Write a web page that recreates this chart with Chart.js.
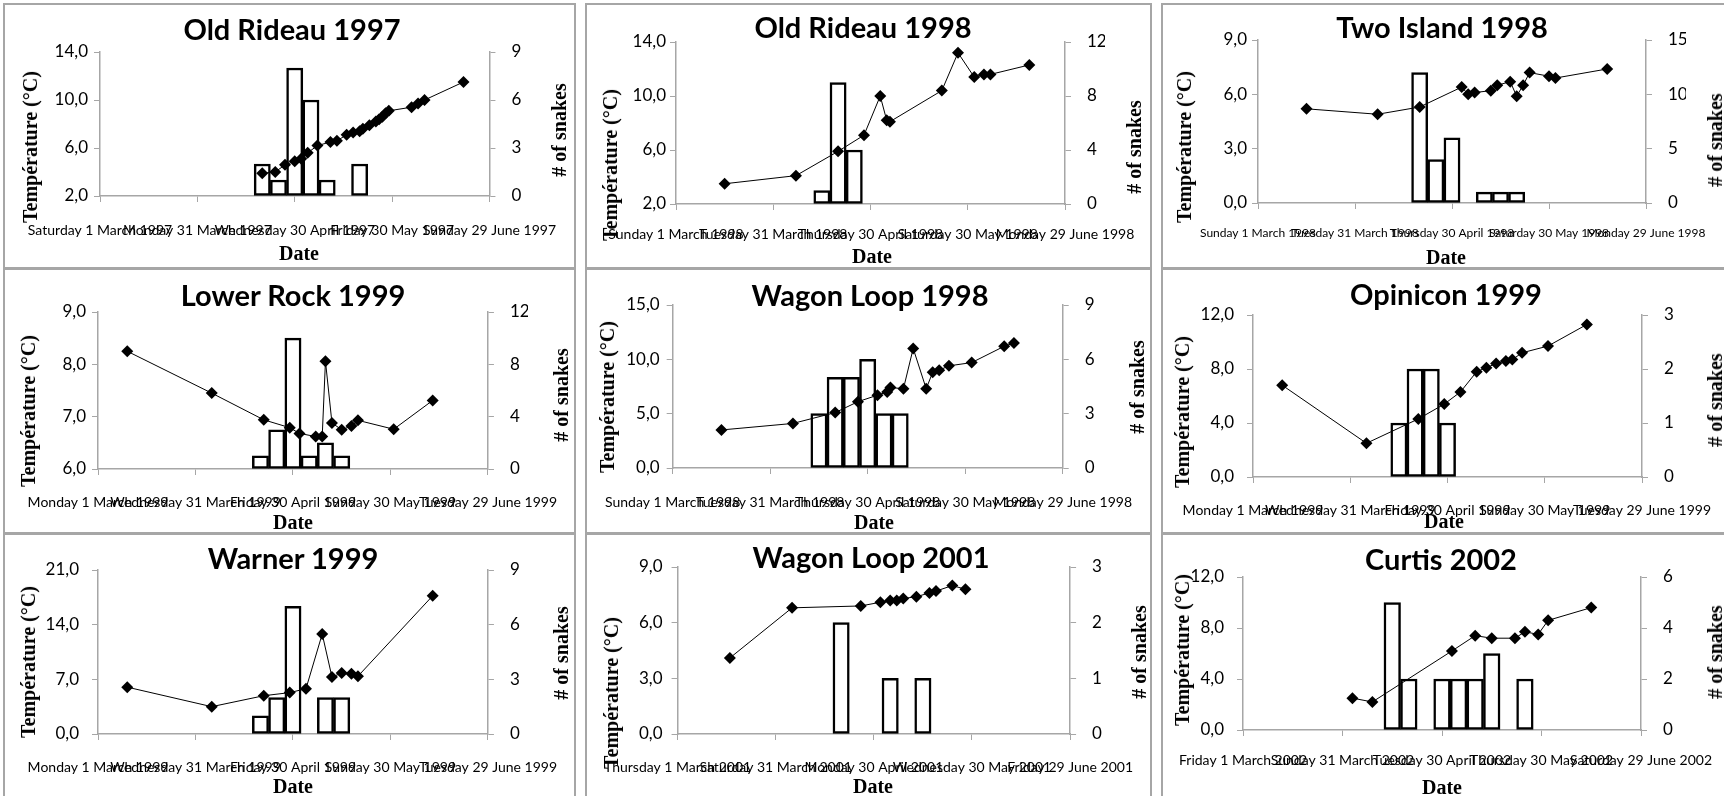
<!DOCTYPE html>
<html>
<head>
<meta charset="utf-8">
<script src="https://cdn.jsdelivr.net/npm/chart.js@4.4.0/dist/chart.umd.min.js"></script>
<style>
body { margin:0; background:#fff; width:1724px; height:796px; overflow:hidden; position:relative; }
.panel { position:absolute; box-sizing:border-box; border:2px solid #a6a6a6; }
canvas { position:absolute; }
.txt { position:absolute; white-space:nowrap; transform:translate(-50%,-50%); color:#000; line-height:1; }
.title { font-family:Lato; font-weight:bold; font-size:29px; }
.axt { font-family:"Liberation Serif"; font-weight:bold; font-size:20px; }
.rot { transform:translate(-50%,-50%) rotate(-90deg); }
</style>
</head>
<body>
<script>
// x values are days counted from 1 March of the year
var labels1997 = ['Saturday 1 March 1997','Monday 31 March 1997','Wednesday 30 April 1997','Friday 30 May 1997','Sunday 29 June 1997']
var labels1998 = ['Sunday 1 March 1998','Tuesday 31 March 1998','Thursday 30 April 1998','Saturday 30 May 1998','Monday 29 June 1998']
var labels1999 = ['Monday 1 March 1999','Wednesday 31 March 1999','Friday 30 April 1999','Sunday 30 May 1999','Tuesday 29 June 1999']
var labels2001 = ['Thursday 1 March 2001','Saturday 31 March 2001','Monday 30 April 2001','Wednesday 30 May 2001','Friday 29 June 2001']
var labels2002 = ['Friday 1 March 2002','Sunday 31 March 2002','Tuesday 30 April 2002','Thursday 30 May 2002','Saturday 29 June 2002']

var oldRideau97Days = [50,54,57,60,62,64,67,71,73,76,78,80,81,83,85,86,87,88,89,96,98,100,112]
var oldRideau97Temp = [3.9,4.0,4.6,4.9,5.1,5.6,6.2,6.5,6.6,7.1,7.3,7.4,7.6,7.9,8.2,8.4,8.6,8.9,9.1,9.4,9.7,10.0,11.5]
var oldRideau97Bins = [50,55,60,65,70,75,80]
var oldRideau97Snakes = [2,1,8,6,1,0,2]

var oldRideau98Days = [15,37,50,58,63,65,66,82,87,92,95,97,109]
var oldRideau98Temp = [3.5,4.1,5.9,7.1,10.0,8.2,8.1,10.4,13.2,11.4,11.6,11.6,12.3]
var oldRideau98Bins = [45,50,55]
var oldRideau98Snakes = [1,9,4]

var twoIsland98Days = [15,37,50,63,65,67,72,74,78,80,82,84,90,92,108]
var twoIsland98Temp = [5.2,4.9,5.3,6.4,6.0,6.1,6.2,6.5,6.7,5.9,6.5,7.2,7.0,6.9,7.4]
var twoIsland98Bins = [50,55,60,65,70,75,80]
var twoIsland98Snakes = [12,4,6,0,1,1,1]

var lowerRock99Days = [9,35,51,59,62,67,69,70,72,75,78,80,91,103]
var lowerRock99Temp = [8.25,7.45,6.94,6.79,6.68,6.62,6.62,8.06,6.88,6.75,6.82,6.93,6.76,7.31]
var lowerRock99Bins = [50,55,60,65,70,75]
var lowerRock99Snakes = [1,3,10,1,2,1]

var wagonLoop98Days = [15,37,50,57,63,66,67,71,74,78,80,82,85,92,102,105]
var wagonLoop98Temp = [3.5,4.1,5.1,6.1,6.7,7.0,7.4,7.3,11.0,7.3,8.8,9.0,9.4,9.7,11.2,11.5]
var wagonLoop98Bins = [45,50,55,60,65,70]
var wagonLoop98Snakes = [3,5,5,6,3,3]

var opinicon99Days = [9,35,51,59,64,69,72,75,78,80,83,91,103]
var opinicon99Temp = [6.8,2.5,4.3,5.4,6.3,7.8,8.1,8.4,8.6,8.7,9.2,9.7,11.3]
var opinicon99Bins = [45,50,55,60]
var opinicon99Snakes = [1,2,2,1]

var warner99Days = [9,35,51,59,64,69,72,75,78,80,103]
var warner99Temp = [6.0,3.5,4.9,5.3,5.8,12.8,7.3,7.8,7.7,7.4,17.7]
var warner99Bins = [50,55,60,65,70,75]
var warner99Snakes = [1,2,7,0,2,2]

var wagonLoop01Days = [16,35,56,62,65,67,69,73,77,79,84,88]
var wagonLoop01Temp = [4.1,6.8,6.9,7.1,7.2,7.2,7.3,7.4,7.6,7.7,8.0,7.8]
var wagonLoop01Bins = [50,55,60,65,70,75]
var wagonLoop01Snakes = [2,0,0,1,0,1]

var curtis02Days = [33,39,63,70,75,82,85,89,92,105]
var curtis02Temp = [2.5,2.2,6.2,7.4,7.2,7.2,7.7,7.5,8.6,9.6]
var curtis02Bins = [45,50,55,60,65,70,75,80,85]
var curtis02Snakes = [5,2,0,2,2,2,3,0,2]

// [min, max, step] for temperature and snake axes
var panels = [
  {title:'Old Rideau 1997', days:oldRideau97Days, temp:oldRideau97Temp, bins:oldRideau97Bins, snakes:oldRideau97Snakes, dates:labels1997, tAxis:[2,14,4], sAxis:[0,9,3]},
  {title:'Old Rideau 1998', days:oldRideau98Days, temp:oldRideau98Temp, bins:oldRideau98Bins, snakes:oldRideau98Snakes, dates:labels1998, tAxis:[2,14,4], sAxis:[0,12,4]},
  {title:'Two Island 1998', days:twoIsland98Days, temp:twoIsland98Temp, bins:twoIsland98Bins, snakes:twoIsland98Snakes, dates:labels1998, tAxis:[0,9,3], sAxis:[0,15,5]},
  {title:'Lower Rock 1999', days:lowerRock99Days, temp:lowerRock99Temp, bins:lowerRock99Bins, snakes:lowerRock99Snakes, dates:labels1999, tAxis:[6,9,1], sAxis:[0,12,4]},
  {title:'Wagon Loop 1998', days:wagonLoop98Days, temp:wagonLoop98Temp, bins:wagonLoop98Bins, snakes:wagonLoop98Snakes, dates:labels1998, tAxis:[0,15,5], sAxis:[0,9,3]},
  {title:'Opinicon 1999', days:opinicon99Days, temp:opinicon99Temp, bins:opinicon99Bins, snakes:opinicon99Snakes, dates:labels1999, tAxis:[0,12,4], sAxis:[0,3,1]},
  {title:'Warner 1999', days:warner99Days, temp:warner99Temp, bins:warner99Bins, snakes:warner99Snakes, dates:labels1999, tAxis:[0,21,7], sAxis:[0,9,3]},
  {title:'Wagon Loop 2001', days:wagonLoop01Days, temp:wagonLoop01Temp, bins:wagonLoop01Bins, snakes:wagonLoop01Snakes, dates:labels2001, tAxis:[0,9,3], sAxis:[0,3,1]},
  {title:'Curtis 2002', days:curtis02Days, temp:curtis02Temp, bins:curtis02Bins, snakes:curtis02Snakes, dates:labels2002, tAxis:[0,12,4], sAxis:[0,6,2]}
]

// layout: box [x,y,w,h], plot [left,right,top,bottom] inside box, label paddings, text centres
var layout = [
  {box:[3,3,573,266], plot:[97,489,49,193], yPad:6, xPad:20, xFont:14, ttl:[292,28], date:[299,253], yt:[30,147], st:[559,130]},
  {box:[585,3,567,266], plot:[91,480,39,201], yPad:4, xPad:16, xFont:14, ttl:[863,26], date:[872,256], yt:[610,165], st:[1134,147]},
  {box:[1161,3,573,266], plot:[97,485,37,200], yPad:5, xPad:17, xFont:12, ttl:[1442,26], date:[1446,257], yt:[1184,147], st:[1715,140]},
  {box:[3,268,573,266], plot:[95,487,44,201], yPad:6, xPad:19, xFont:14, ttl:[293,294], date:[293,522], yt:[28,411], st:[561,395]},
  {box:[585,268,567,266], plot:[87,481,37,200], yPad:7, xPad:20, xFont:14, ttl:[870,294], date:[874,522], yt:[607,397], st:[1137,387]},
  {box:[1161,268,573,266], plot:[92,481,47,209], yPad:13, xPad:19, xFont:14, ttl:[1446,293], date:[1444,521], yt:[1182,412], st:[1715,400]},
  {box:[3,533,573,266], plot:[95,487,37,201], yPad:13, xPad:19, xFont:14, ttl:[293,557], date:[293,786], yt:[28,662], st:[561,653]},
  {box:[585,533,567,266], plot:[92,489,34,201], yPad:9, xPad:19, xFont:14, ttl:[871,556], date:[873,786], yt:[611,693], st:[1139,652]},
  {box:[1161,533,573,266], plot:[82,480,44,197], yPad:13, xPad:16, xFont:14, ttl:[1441,558], date:[1442,787], yt:[1182,650], st:[1715,652]}
]

var axisGrey = '#a6a6a6'

function addText(cls, text, pos){
  var d = document.createElement('div')
  d.className = 'txt ' + cls
  d.textContent = text
  d.style.left = pos[0] + 'px'
  d.style.top = pos[1] + 'px'
  document.body.appendChild(d)
}

function fmtTemp(v){
  return v.toFixed(1).replace('.', ',')
}

function makePanel(p, l){
  var b = l.box
  var frame = document.createElement('div')
  frame.className = 'panel'
  frame.style.left = b[0] + 'px'
  frame.style.top = b[1] + 'px'
  frame.style.width = b[2] + 'px'
  frame.style.height = b[3] + 'px'
  document.body.appendChild(frame)

  var cv = document.createElement('canvas')
  cv.width = b[2]
  cv.height = b[3]
  cv.style.left = b[0] + 'px'
  cv.style.top = b[1] + 'px'
  cv.style.width = b[2] + 'px'
  cv.style.height = b[3] + 'px'
  document.body.appendChild(cv)

  var leftW = 70, rightW = 40, bottomH = 50
  var pl = l.plot

  var tempPoints = []
  for (var i = 0; i < p.days.length; i++) tempPoints.push({x:p.days[i], y:p.temp[i]})
  var snakeBars = []
  for (var j = 0; j < p.bins.length; j++) snakeBars.push({x:p.bins[j], y:p.snakes[j]})

  new Chart(cv, {
    type:'bar',
    data:{
      datasets:[
        {
          type:'line', data:tempPoints, yAxisID:'y', order:0,
          borderColor:'#000', borderWidth:1, backgroundColor:'#000',
          pointStyle:'rectRot', pointRadius:6, pointBackgroundColor:'#000', pointBorderWidth:0,
          tension:0, fill:false
        },
        {
          type:'bar', data:snakeBars, yAxisID:'y1', order:1,
          backgroundColor:'#fff', borderColor:'#000', borderWidth:2.5, borderSkipped:false,
          barPercentage:1, categoryPercentage:1
        }
      ]
    },
    options:{
      responsive:false, animation:false, devicePixelRatio:1,
      layout:{padding:{left:pl[0] - leftW, right:b[2] - pl[1] - rightW, top:pl[2], bottom:b[3] - pl[3] - bottomH}},
      plugins:{legend:{display:false}, tooltip:{enabled:false}, title:{display:false}},
      scales:{
        x:{
          type:'linear', min:0, max:120, offset:false,
          grid:{offset:false, drawOnChartArea:false, color:axisGrey, tickLength:6},
          border:{color:axisGrey, width:1.5},
          ticks:{stepSize:30, autoSkip:false, maxRotation:0, minRotation:0, padding:l.xPad, color:'#000',
            font:{family:'Lato', size:l.xFont},
            callback:function(v){ return p.dates[Math.round(v / 30)] }},
          afterFit:function(s){ s.height = bottomH }
        },
        y:{
          type:'linear', position:'left', min:p.tAxis[0], max:p.tAxis[1],
          grid:{drawOnChartArea:false, color:axisGrey, tickLength:6},
          border:{color:axisGrey, width:1.5},
          ticks:{stepSize:p.tAxis[2], padding:l.yPad, color:'#000', font:{family:'Lato', size:17}, callback:fmtTemp},
          afterFit:function(s){ s.width = leftW }
        },
        y1:{
          type:'linear', position:'right', min:p.sAxis[0], max:p.sAxis[1],
          grid:{drawOnChartArea:false, color:axisGrey, tickLength:6},
          border:{color:axisGrey, width:1.5},
          ticks:{stepSize:p.sAxis[2], padding:16, color:'#000', font:{family:'Lato', size:17}},
          afterFit:function(s){ s.width = rightW }
        }
      }
    }
  })

  addText('title', p.title, l.ttl)
  addText('axt', 'Date', l.date)
  addText('axt rot', 'Température (°C)', l.yt)
  addText('axt rot', '# of snakes', l.st)
}

for (var k = 0; k < panels.length; k++) makePanel(panels[k], layout[k])
</script>
</body>
</html>
